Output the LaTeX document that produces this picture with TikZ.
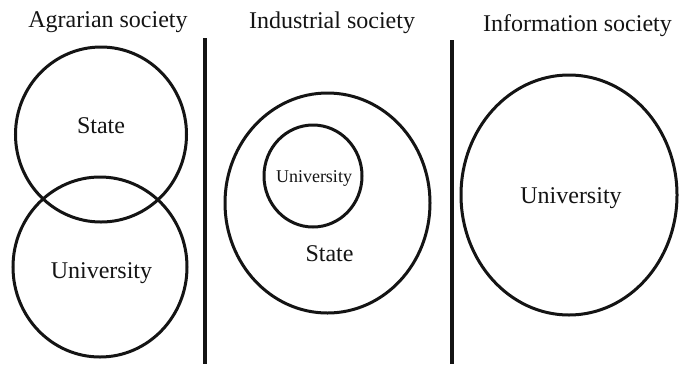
\documentclass[tikz,border=0pt]{standalone}
\usepackage{fontspec}
\setmainfont{Liberation Serif}
\usetikzlibrary{shapes.geometric}
\definecolor{ink}{HTML}{141414}
\begin{document}
\begin{tikzpicture}[x=1bp,y=-1bp,
  ring/.style={ellipse,draw=ink,line width=3bp,inner sep=0pt},
  big/.style={font=\fontsize{24bp}{28bp}\selectfont,text=ink,anchor=base,inner sep=0pt},
  small/.style={font=\fontsize{18bp}{21bp}\selectfont,text=ink,anchor=base,inner sep=0pt},
  divider/.style={draw=ink,line width=3.4bp}]
\useasboundingbox[fill=white] (0,0) rectangle (679,364);

% column titles
\node[big] (tA) at (108,27) {Agrarian society};
\node[big] (tI) at (332,28) {Industrial society};
\node[big] (tN) at (577.5,31) {Information society};

% dividers
\coordinate (d1top) at (205,38);
\coordinate (d1bot) at (205,364);
\coordinate (d2top) at (452,40);
\coordinate (d2bot) at (452,364);
\draw[divider] (d1top) -- (d1bot);
\draw[divider] (d2top) -- (d2bot);

% agrarian: two overlapping circles
\node[ring,minimum width=171bp,minimum height=175bp] (aState) at (101,134.5) {};
\node[ring,minimum width=174bp,minimum height=180bp] (aUni) at (100,267) {};
\node[big] (lAState) at (101,133) {State};
\node[big] (lAUni) at (101.5,278) {University};

% industrial: university nested inside the state
\node[ring,minimum width=205bp,minimum height=220bp] (iState) at (327.5,203) {};
\node[ring,minimum width=98bp,minimum height=102bp] (iUni) at (313,176) {};
\node[small] (lIUni) at (314,182) {University};
\node[big] (lIState) at (329.5,261) {State};

% information: the university alone
\node[ring,minimum width=216bp,minimum height=240bp] (nUni) at (569,195) {};
\node[big] (lNUni) at (571,203) {University};
\end{tikzpicture}
\end{document}
